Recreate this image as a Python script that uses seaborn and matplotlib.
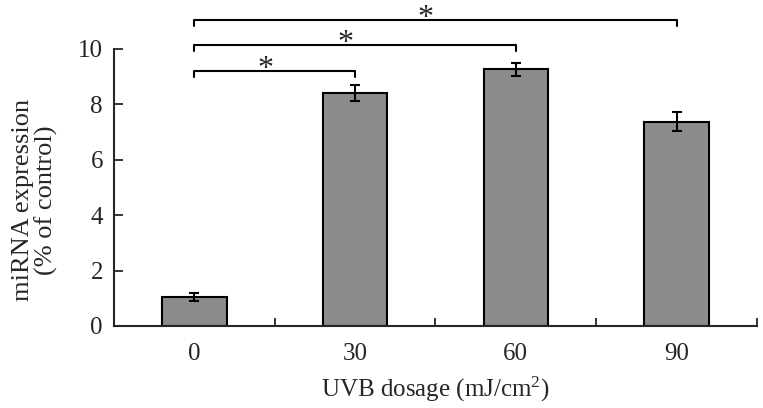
import numpy as np
import pandas as pd
import matplotlib
matplotlib.use("Agg")
import matplotlib.pyplot as plt
import seaborn as sns
from matplotlib.ticker import FixedLocator

# data
doses = ["0", "30", "60", "90"]
expression = [1.06, 8.40, 9.27, 7.38]
errors = [0.14, 0.29, 0.24, 0.33]

# significance brackets: (left group, right group, bracket height)
bracket_pairs = [(0, 1), (0, 2), (0, 3)]
bracket_heights = [9.2, 10.14, 11.05]
bracket_labels = ["*", "*", "*"]

sns.set_style("ticks")
plt.rcParams["font.family"] = ["Liberation Serif", "DejaVu Serif"]
plt.rcParams["mathtext.fontset"] = "custom"
plt.rcParams["mathtext.rm"] = "Liberation Serif"

df = pd.DataFrame({"dose": doses, "expression": expression})

fig = plt.figure(figsize=(7.63, 4.08), dpi=100)
ax = fig.add_axes([0.1494, 0.201, 0.8426, 0.679])

sns.barplot(data=df, x="dose", y="expression", color="#8c8c8c", saturation=1,
            edgecolor="black", linewidth=1.5, width=0.4, errorbar=None, ax=ax)

ax.errorbar(np.arange(len(doses)), expression, yerr=errors, fmt="none",
            ecolor="black", elinewidth=1.5, capsize=3.6, capthick=1.5)

# significance brackets above the bars
tick_drop = 0.22
for (a, b), h, lab in zip(bracket_pairs, bracket_heights, bracket_labels):
    ax.plot([a, a, b, b], [h - tick_drop, h, h, h - tick_drop], color="black",
            lw=1.5, clip_on=False)
    ax.text((a + b) / 2 - 0.06, h - 0.22, lab, ha="center", va="baseline",
            fontsize=23, clip_on=False)

ax.set_xlim(-0.5, 3.5)
ax.set_ylim(0, 10)
ax.set_yticks([0, 2, 4, 6, 8, 10])

ax.xaxis.set_minor_locator(FixedLocator([0.5, 1.5, 2.5, 3.5]))
ax.tick_params(axis="x", which="major", length=0, pad=12, labelsize=18)
ax.tick_params(axis="x", which="minor", direction="in", length=6, width=1.3)
ax.tick_params(axis="y", direction="in", length=6.5, width=1.3, pad=8, labelsize=18)

for side in ["top", "right"]:
    ax.spines[side].set_visible(False)
for side in ["left", "bottom"]:
    ax.spines[side].set_linewidth(1.5)

ax.set_xlabel(r"UVB dosage (mJ/cm$\mathregular{^2}$)", fontsize=18, labelpad=7)
ax.set_ylabel("miRNA expression\n(% of control)", fontsize=19, linespacing=1.05)
ax.yaxis.set_label_coords(-0.087, 0.455)

fig.savefig("out.png", dpi=100)
